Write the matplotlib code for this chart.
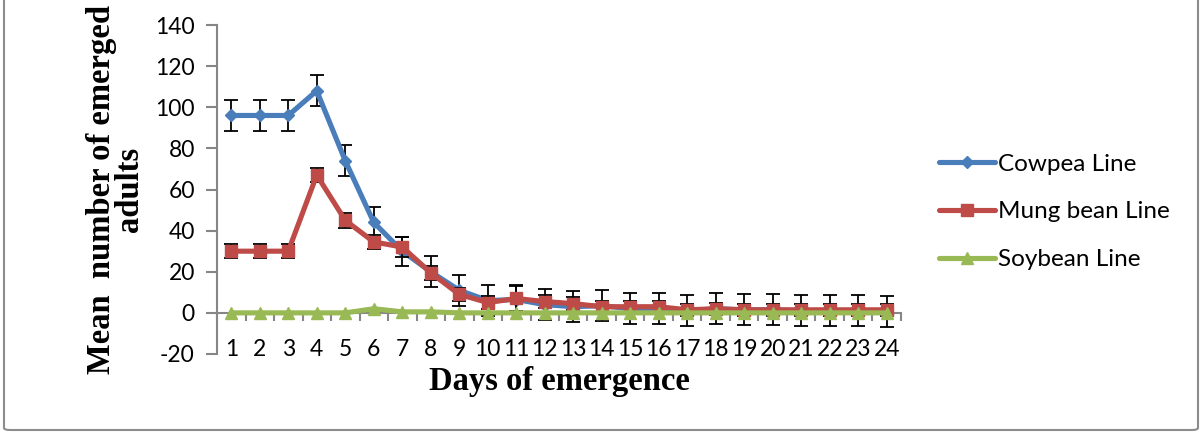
import numpy as np
import matplotlib
matplotlib.use('Agg')
import matplotlib.pyplot as plt
from matplotlib.patches import FancyBboxPatch

plt.rcParams['axes.unicode_minus'] = False

# Data
days = list(range(1, 25))
cowpea = [96, 96, 96, 108, 74, 44, 30, 20, 11, 6, 6.5, 4, 3, 3.5, 2, 2, 1, 2, 1.5, 1.5, 1, 1, 1, 0.5]
cowpea_err = [7.5, 7.5, 7.5, 7.5, 7.5, 7.5, 7, 7.5, 7.5, 7.5, 7, 7.5, 7.5, 7.5, 7.5, 7.5, 7.5, 7.5, 7.5, 7.5, 7.5, 7.5, 7.5, 7.5]
mung = [30, 30, 30, 67, 45, 34.5, 32, 19.5, 9, 5, 7, 5.5, 4.5, 3, 3, 3, 1.5, 2, 1.5, 1.5, 1.5, 1.5, 1.5, 1.5]
mung_err = [3.5, 3.5, 3.5, 3.5, 3.5, 3.5, 5, 3.5, 3, 3, 6, 3, 3, 3, 3, 3, 3, 3, 3, 3, 3, 3, 3, 3]
soybean = [0, 0, 0, 0, 0, 2, 0.5, 0.5, 0, 0, 0, 0, 0, 0, 0, 0, 0, 0, 0, 0, 0, 0, 0, 0]

series_names = ['Cowpea Line', 'Mung bean Line', 'Soybean Line']
colors = ['#4A7EBB', '#BE4B48', '#98B954']

tick_font = 'Lato'
gray = '#868686'

fig = plt.figure(figsize=(12, 4.32), dpi=100)
ax = fig.add_axes([217 / 1200, 1 - 354 / 432, 684 / 1200, 329 / 432])

# Cowpea
ax.errorbar(days, cowpea, yerr=cowpea_err, fmt='none', ecolor='black',
            elinewidth=1.3, capsize=5, capthick=1.3, zorder=2)
ax.plot(days, cowpea, color=colors[0], lw=3.7, marker='D', ms=6,
        label=series_names[0], zorder=3, solid_capstyle='round')
# Mung bean
ax.errorbar(days, mung, yerr=mung_err, fmt='none', ecolor='black',
            elinewidth=1.3, capsize=5, capthick=1.3, zorder=4)
ax.plot(days, mung, color=colors[1], lw=3.7, marker='s', ms=9,
        label=series_names[1], zorder=5, solid_capstyle='round')
# Soybean
ax.plot(days, soybean, color=colors[2], lw=3.7, marker='^', ms=8,
        label=series_names[2], zorder=6, solid_capstyle='round')

ax.set_xlim(0.5, 24.5)
ax.set_ylim(-20, 140)
ax.set_yticks(range(-20, 141, 20))
ax.set_xticks(days)
ax.set_xticks(np.arange(0.5, 25, 1), minor=True)

for s in ['top', 'right']:
    ax.spines[s].set_visible(False)
ax.spines['left'].set_color(gray)
ax.spines['left'].set_linewidth(1.5)
ax.spines['bottom'].set_position(('data', 0))
ax.spines['bottom'].set_color(gray)
ax.spines['bottom'].set_linewidth(1.5)

ax.tick_params(axis='y', direction='out', length=8, width=1.5, color=gray,
               labelsize=16.5, pad=8)
ax.tick_params(axis='x', which='major', length=0, labelsize=16.5, pad=19)
ax.tick_params(axis='x', which='minor', direction='out', length=6, width=1.5, color=gray)
for lab in ax.get_xticklabels() + ax.get_yticklabels():
    lab.set_fontfamily(tick_font)

ax.set_xlabel('Days of emergence', fontfamily='Liberation Serif', fontweight='bold',
              fontsize=23.5, labelpad=4)
ax.set_ylabel('Mean  number of emerged\nadults', fontfamily='Liberation Serif',
              fontweight='bold', fontsize=23.5, labelpad=7, linespacing=0.9)

leg = ax.legend(loc='center left', bbox_to_anchor=(1.024, 0.432), frameon=False,
                prop={'family': tick_font, 'size': 17.5}, handlelength=2.3,
                handletextpad=0.1, labelspacing=1.1)

border = FancyBboxPatch((4 / 1200, 2 / 432), 1194 / 1200, 440 / 432,
                        boxstyle='round,pad=0,rounding_size=0.005',
                        transform=fig.transFigure, fill=False,
                        edgecolor='#8c8c8c', lw=1.5, clip_on=False)
fig.patches.append(border)

fig.savefig('out.png', dpi=100)
